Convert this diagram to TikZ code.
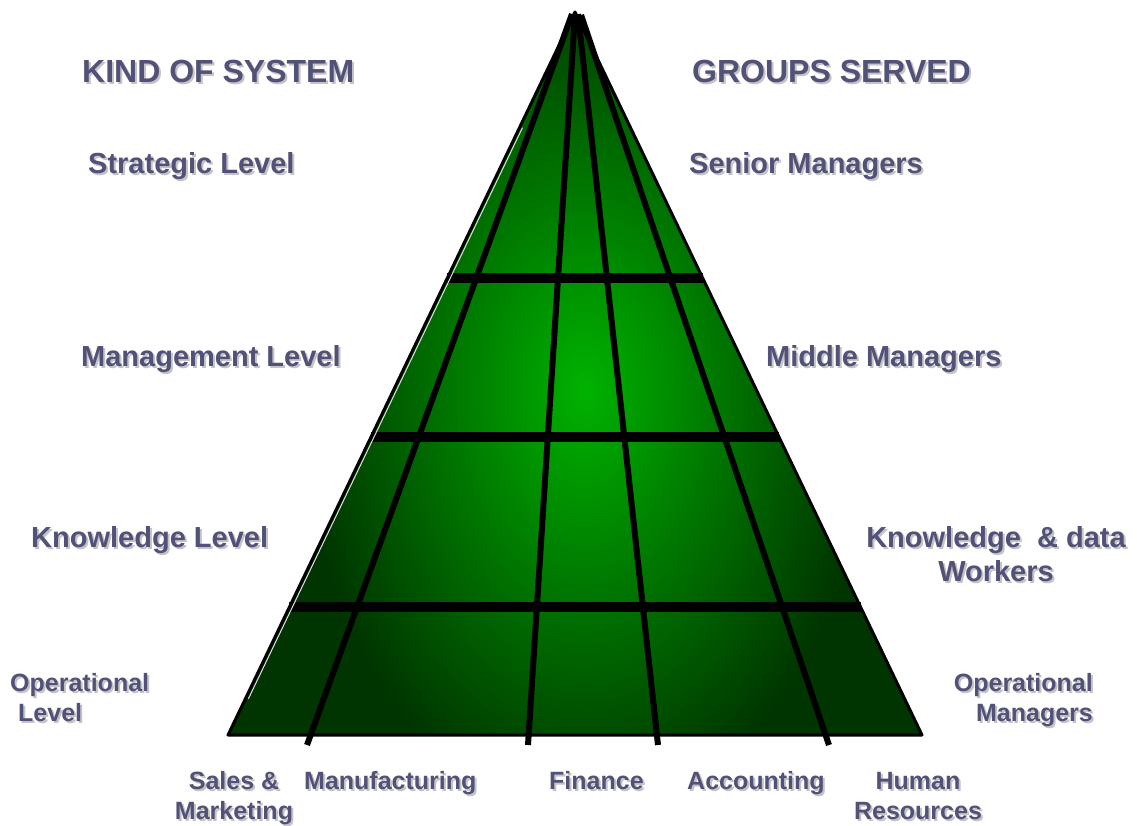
\documentclass[tikz,border=0pt]{standalone}
\usepackage{fontspec}
\setmainfont{Liberation Sans}
\usetikzlibrary{calc}

\definecolor{txtblue}{RGB}{82,82,120}
\definecolor{txtshade}{RGB}{195,195,200}
\definecolor{pyrdark}{RGB}{0,52,0}
\definecolor{pyrlight}{RGB}{0,178,0}

% bold label with a soft grey drop shadow
\newcommand{\shtext}[1]{\leavevmode\rlap{\kern2pt\raisebox{-2pt}{\textcolor{txtshade}{#1}}}#1}

\tikzset{
  lbl/.style={inner sep=0pt, text=txtblue, font=\bfseries\fontsize{29}{34}\selectfont},
  head/.style={lbl, font=\bfseries\fontsize{32}{38}\selectfont},
  dept/.style={lbl, font=\bfseries\fontsize{25}{30}\selectfont},
  rule/.style={line width=10pt},
  spoke/.style={line width=6pt, line cap=butt},
}

\begin{document}
\begin{tikzpicture}[x=1pt,y=1pt,yscale=-1,xscale=1]
\useasboundingbox (0,0) rectangle (1137,825);

\coordinate (apex) at (575,12);
\coordinate (bl) at (228,735);
\coordinate (br) at (922,735);

% pyramid body, bright in the middle
\fill [pyrdark] (apex) -- (bl) -- (br) -- cycle;
\begin{scope}
  \clip (apex) -- (bl) -- (br) -- cycle;
  \shade [inner color=pyrlight, outer color=pyrdark] (585,390) ellipse [x radius=285, y radius=430];
\end{scope}

% level bars
\draw [rule] ($(apex)!0.368!(bl)$) -- ($(apex)!0.368!(br)$);
\draw [rule] ($(apex)!0.588!(bl)$) -- ($(apex)!0.588!(br)$);
\draw [rule] ($(apex)!0.823!(bl)$) -- ($(apex)!0.823!(br)$);

% functional areas
\coordinate (sm) at (307,745);
\coordinate (mf) at (528,745);
\coordinate (fi) at (658,745);
\coordinate (ac) at (829,745);
\draw [spoke] (572,14) -- (sm);
\draw [spoke] (575,14) -- (mf);
\draw [spoke] (578,14) -- (fi);
\draw [spoke] (581,15) -- (ac);

% outline and highlight
\draw [line width=3pt, line join=round] (apex) -- (bl) -- (br) -- cycle;
\draw [white!75!gray, line width=1pt] ($(apex)!0.16!(bl)+(3,0)$) -- ($(apex)!0.95!(bl)+(3,0)$);

% left column
\node [head, anchor=base west] (kind) at (82,82) {\shtext{KIND OF SYSTEM}};
\node [lbl, anchor=base west] (strat) at (88,173) {\shtext{Strategic Level}};
\node [lbl, anchor=base west] (mgmt) at (81,366) {\shtext{Management Level}};
\node [lbl, anchor=base west] (know) at (31,547) {\shtext{Knowledge Level}};
\node [dept, align=left, anchor=base west] (oplev) at (10,721) {\shtext{Operational}\\\hspace{8pt}\shtext{Level}};

% right column
\node [head, anchor=base west] (groups) at (692,82) {\shtext{GROUPS SERVED}};
\node [lbl, anchor=base west] (senior) at (689,173) {\shtext{Senior Managers}};
\node [lbl, anchor=base west] (middle) at (766,366) {\shtext{Middle Managers}};
\node [lbl, align=center, anchor=base] (workers) at (996,581) {\shtext{Knowledge\ \ \& data}\\\shtext{Workers}};
\node [dept, align=right, anchor=base east] (opmgr) at (1093,721) {\shtext{Operational}\\\shtext{Managers}};

% bottom row
\node [dept, align=center, anchor=base] (sales) at (234,819) {\shtext{Sales \&}\\\shtext{Marketing}};
\node [dept, anchor=base west] (manuf) at (304,789) {\shtext{Manufacturing}};
\node [dept, anchor=base west] (fin) at (549,789) {\shtext{Finance}};
\node [dept, anchor=base west] (acct) at (687,789) {\shtext{Accounting}};
\node [dept, align=center, anchor=base] (hr) at (918,819) {\shtext{Human}\\\shtext{Resources}};

\end{tikzpicture}
\end{document}
